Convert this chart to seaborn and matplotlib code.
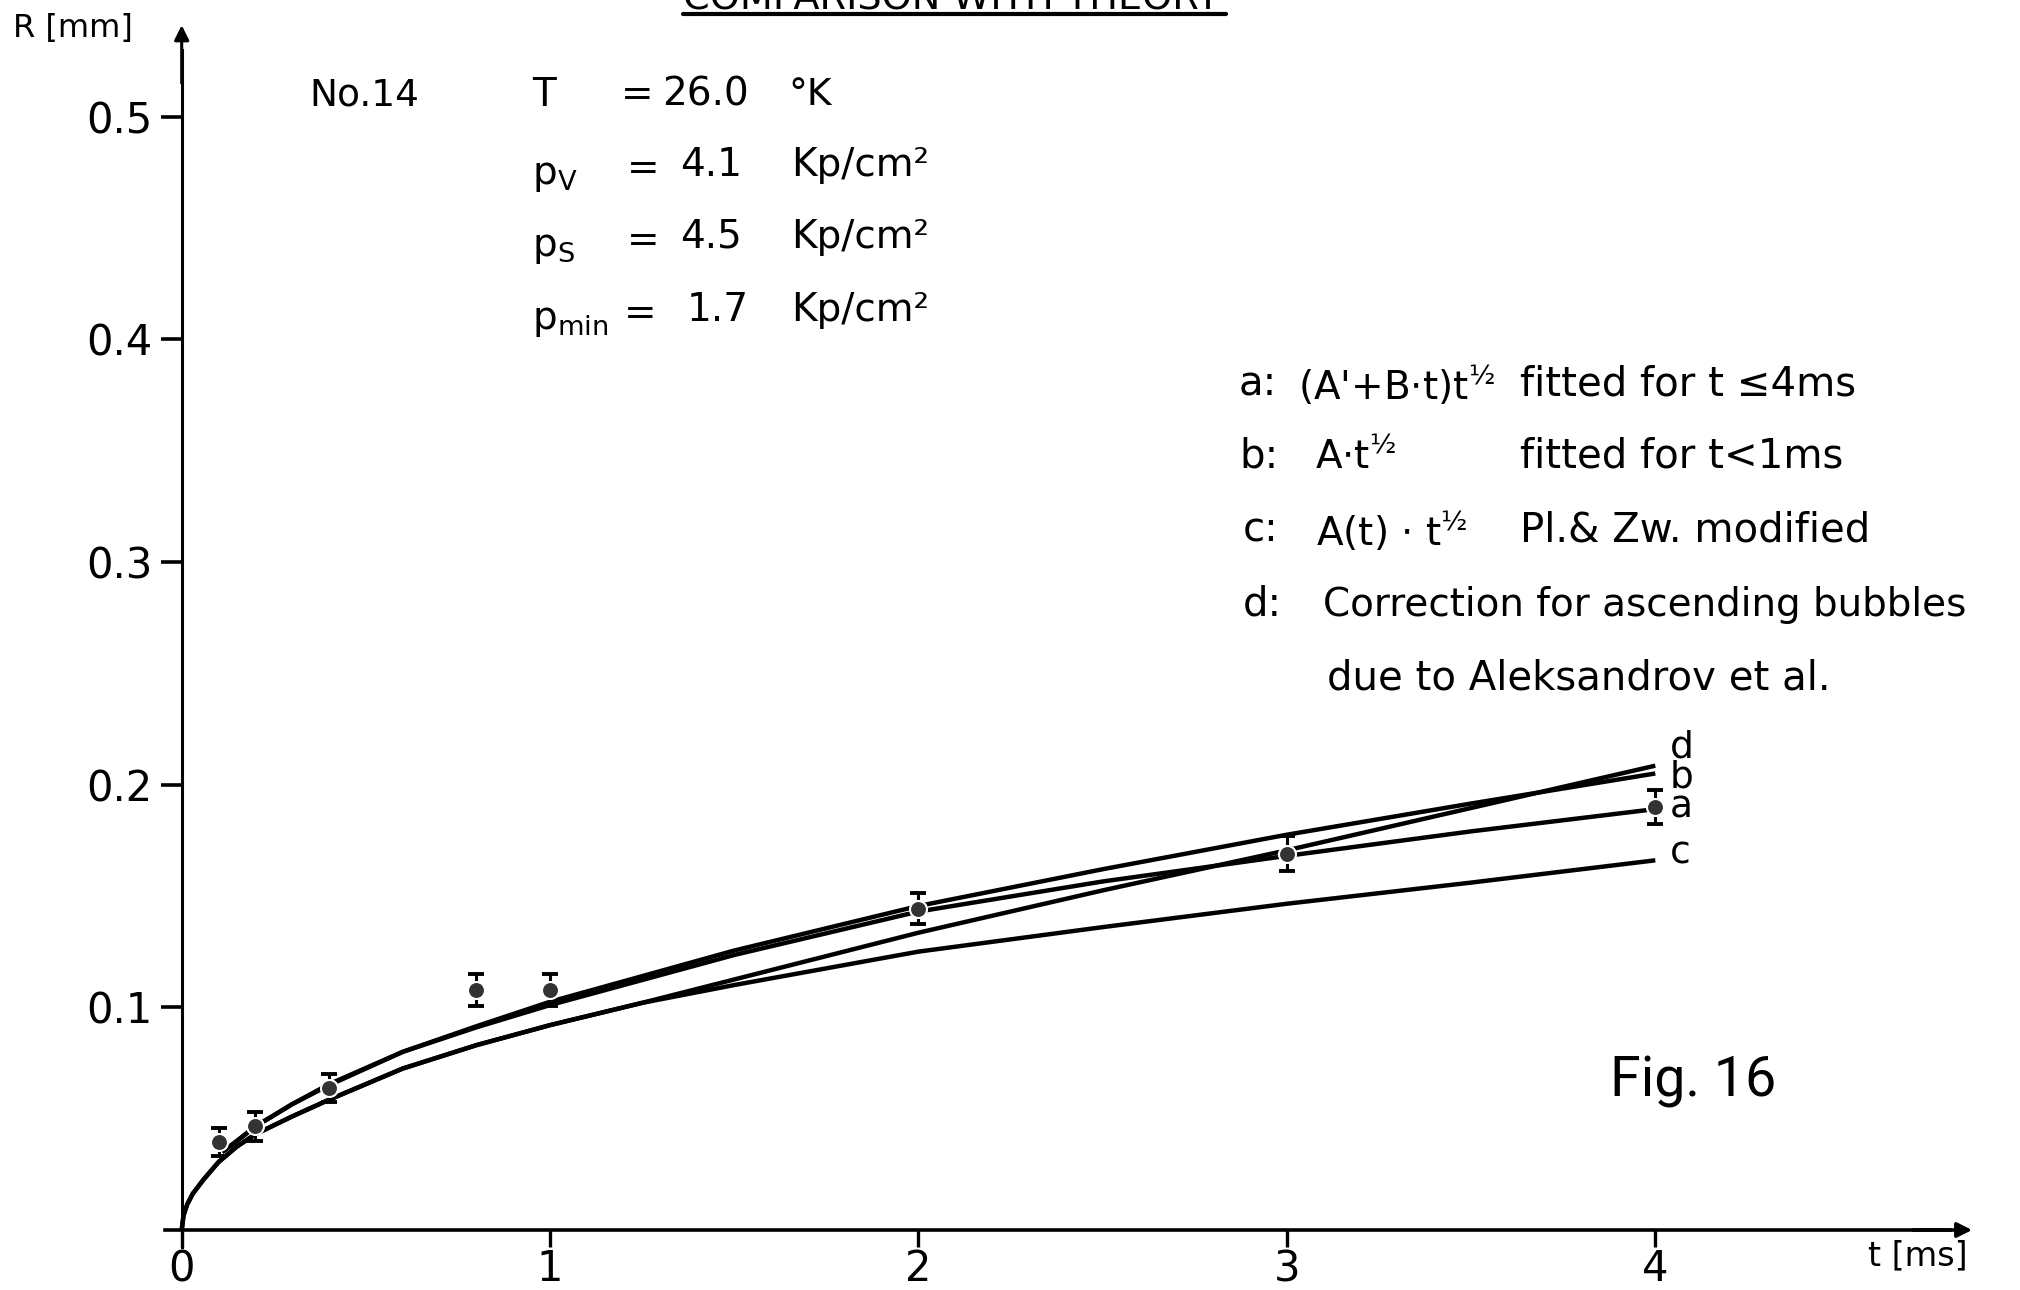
import numpy as np
import pandas as pd
import matplotlib
matplotlib.use("Agg")
import matplotlib.pyplot as plt
import seaborn as sns
from matplotlib.lines import Line2D

# ---------------- data ----------------
t_points = [0.1, 0.2, 0.4, 0.8, 1.0, 2.0, 3.0, 4.0]
R_points = [0.0395, 0.0465, 0.0636, 0.1078, 0.1078, 0.1442, 0.169, 0.190]
R_err = [0.0064, 0.0064, 0.0063, 0.007, 0.007, 0.007, 0.008, 0.0075]

t_a = [0.11, 0.15, 0.2, 0.3, 0.4, 0.6, 0.8, 1.0, 1.5, 2.0, 2.5, 3.0, 3.5, 4.0]
R_a = [0.035, 0.040, 0.0465, 0.0565, 0.065, 0.080, 0.091, 0.101, 0.1235, 0.143, 0.1565, 0.168, 0.179, 0.189]

t_b = [0.11, 0.15, 0.2, 0.3, 0.4, 0.6, 0.8, 1.0, 1.5, 2.0, 2.5, 3.0, 3.5, 4.0]
R_b = [0.035, 0.040, 0.0465, 0.0565, 0.0655, 0.080, 0.0915, 0.1025, 0.1255, 0.1455, 0.162, 0.1775, 0.1915, 0.205]

t_c = [0, 0.005, 0.015, 0.03, 0.06, 0.1, 0.15, 0.2, 0.3, 0.4, 0.6, 0.8, 1.0, 1.25, 1.5, 2.0, 2.5, 3.0, 3.5, 4.0]
R_c = [0, 0.0066, 0.0115, 0.0163, 0.0228, 0.0305, 0.0375, 0.043, 0.051, 0.0585, 0.0725, 0.083, 0.092, 0.102,
       0.110, 0.125, 0.136, 0.1465, 0.156, 0.166]

t_d = [0, 0.005, 0.015, 0.03, 0.06, 0.1, 0.15, 0.2, 0.3, 0.4, 0.6, 0.8, 1.0, 1.25, 1.5, 2.0, 2.5, 3.0, 3.5, 4.0]
R_d = [0, 0.0066, 0.0115, 0.0163, 0.0228, 0.0305, 0.0375, 0.043, 0.051, 0.0585, 0.0725, 0.083, 0.092, 0.102,
       0.1125, 0.1335, 0.1525, 0.1705, 0.1895, 0.2085]

x_ticks = [0, 1, 2, 3, 4]
x_ticklabels = ["0", "1", "2", "3", "4"]
y_ticks = [0.1, 0.2, 0.3, 0.4, 0.5]
y_ticklabels = ["0.1", "0.2", "0.3", "0.4", "0.5"]

curve_names = ["a", "b", "c", "d"]

# ---------------- style ----------------
sns.set_style("white")
plt.rcParams['font.family'] = ['DejaVu Sans']
plt.rcParams['mathtext.fontset'] = 'dejavusans'
for key in ["text.color", "axes.edgecolor", "xtick.color", "ytick.color", "axes.labelcolor"]:
    plt.rcParams[key] = "black"

W, H = 2020, 1290
fig = plt.figure(figsize=(W / 100, H / 100), dpi=100)
ax = fig.add_axes([0, 0, 1, 1])
X0, XS = 181.7, 368.4     # pixel of t=0, pixels per ms
Y0, YS = 1230.0, 2227.0   # pixel (from top) of R=0, pixels per mm
ax.set_xlim(-X0 / XS, (W - X0) / XS)
ax.set_ylim(-(H - Y0) / YS, Y0 / YS)
ax.patch.set_alpha(0)

frames = []
for name, tt, rr in zip(curve_names, [t_a, t_b, t_c, t_d], [R_a, R_b, R_c, R_d]):
    frames.append(pd.DataFrame({"t": tt, "R": rr, "curve": name}))
curves = pd.concat(frames, ignore_index=True)

sns.lineplot(data=curves, x="t", y="R", units="curve", estimator=None, sort=False,
             color="black", lw=3.2, ax=ax, legend=False, solid_capstyle="butt")

pts = pd.DataFrame({"t": t_points, "R": R_points, "err": R_err})
ax.errorbar(pts["t"], pts["R"], yerr=pts["err"], fmt="none", ecolor="black",
            elinewidth=2.2, capsize=5.5, capthick=2.8, zorder=4)
sns.scatterplot(data=pts, x="t", y="R", s=150, color="#333333", edgecolor="white",
                linewidth=1.5, ax=ax, zorder=5, legend=False)

# ---------------- axes ----------------
for s in ["top", "right"]:
    ax.spines[s].set_visible(False)
ax.spines["left"].set_position(("data", 0))
ax.spines["bottom"].set_position(("data", 0))
ax.spines["left"].set_bounds(-0.0076, 0.53)
ax.spines["bottom"].set_bounds(-0.045, 4.80)
ax.spines["left"].set_linewidth(2.2)
ax.spines["bottom"].set_linewidth(2.6)
ax.spines["left"].set_color("black")
ax.spines["bottom"].set_color("black")
ax.annotate("", xy=(4.86, 0), xytext=(4.70, 0),
            arrowprops=dict(arrowstyle="-|>", color="black", lw=2.6, mutation_scale=22,
                            shrinkA=0, shrinkB=0), annotation_clip=False)
ax.annotate("", xy=(0, 0.541), xytext=(0, 0.515),
            arrowprops=dict(arrowstyle="-|>", color="black", lw=2.2, mutation_scale=22,
                            shrinkA=0, shrinkB=0), annotation_clip=False)

ax.set_xticks(x_ticks)
ax.set_xticklabels(x_ticklabels)
ax.set_yticks(y_ticks)
ax.set_yticklabels(y_ticklabels)
ax.tick_params(axis="x", bottom=True, direction="out", length=12, width=2.4, pad=1, labelsize=30,
               colors="black")
ax.tick_params(axis="y", left=True, direction="out", length=15, width=2.6, pad=6, labelsize=30,
               colors="black")
ax.set_xlabel("")
ax.set_ylabel("")


def ft(x, y, s, size=29, ha="left", va="center", **kw):
    fig.text(x / W, 1 - y / H, s, fontsize=size, ha=ha, va=va, color="black", **kw)


# title fragment (cut off at the top edge, as in the original scan)
ft(683, 9, "COMPARISON WITH THEORY", size=27.5, va="baseline")
fig.add_artist(Line2D([683 / W, 1226 / W], [1 - 14 / H, 1 - 14 / H], color="black", lw=3))

ft(13, 28, "R [mm]", size=23)
ft(1868, 1256, "t [ms]", size=24)

# experiment parameters
ft(309, 95, "No.14", size=27)
ft(532, 95, "T", size=28)
ft(621, 95, "=", size=28)
ft(662, 95, "26.0", size=28)
ft(788, 95, "°K", size=27)
rows = [(169, r"$\mathregular{p_V}$", 627, "4.1", 680),
        (241, r"$\mathregular{p_S}$", 627, "4.5", 680),
        (314, r"$\mathregular{p_{min}}$", 624, "1.7", 687)]
for y, lab, xe, val, xv in rows:
    ft(532, y + 6, lab, size=28)
    ft(xe, y, "=", size=28)
    ft(xv, y - 4, val, size=28)
    ft(791, y - 4, "Kp/cm²", size=28)

# legend text
leg = [(385, "a:", 1239, r"(A'+B$\cdot$t)$\mathregular{t^{½}}$", 1298, "fitted for t ≤4ms"),
       (457, "b:", 1239, r"A$\cdot\mathregular{t^{½}}$", 1315, "fitted for t<1ms"),
       (531, "c:", 1243, r"A(t) $\cdot$ $\mathregular{t^{½}}$", 1316, "Pl.& Zw. modified"),
       (605, "d:", 1243, "Correction for ascending bubbles", 1323, "")]
for y, lab, xl, form, xf, desc in leg:
    ft(xl, y, lab, size=29)
    ft(xf, y, form, size=28)
    if desc:
        ft(1520, y, desc, size=29)
ft(1327, 678, "due to Aleksandrov et al.", size=29)

# curve end labels (d, b, a stacked tightly as in the original)
fig.text(1670 / W, 1 - 818 / H, "d\nb\na", fontsize=27, ha="left", va="baseline",
         linespacing=0.79, color="black")
ft(1670, 853, "c", size=27)

ft(1610, 1082, "Fig. 16", size=40, family="Roboto")

fig.savefig("out.png", dpi=100, facecolor="white")
